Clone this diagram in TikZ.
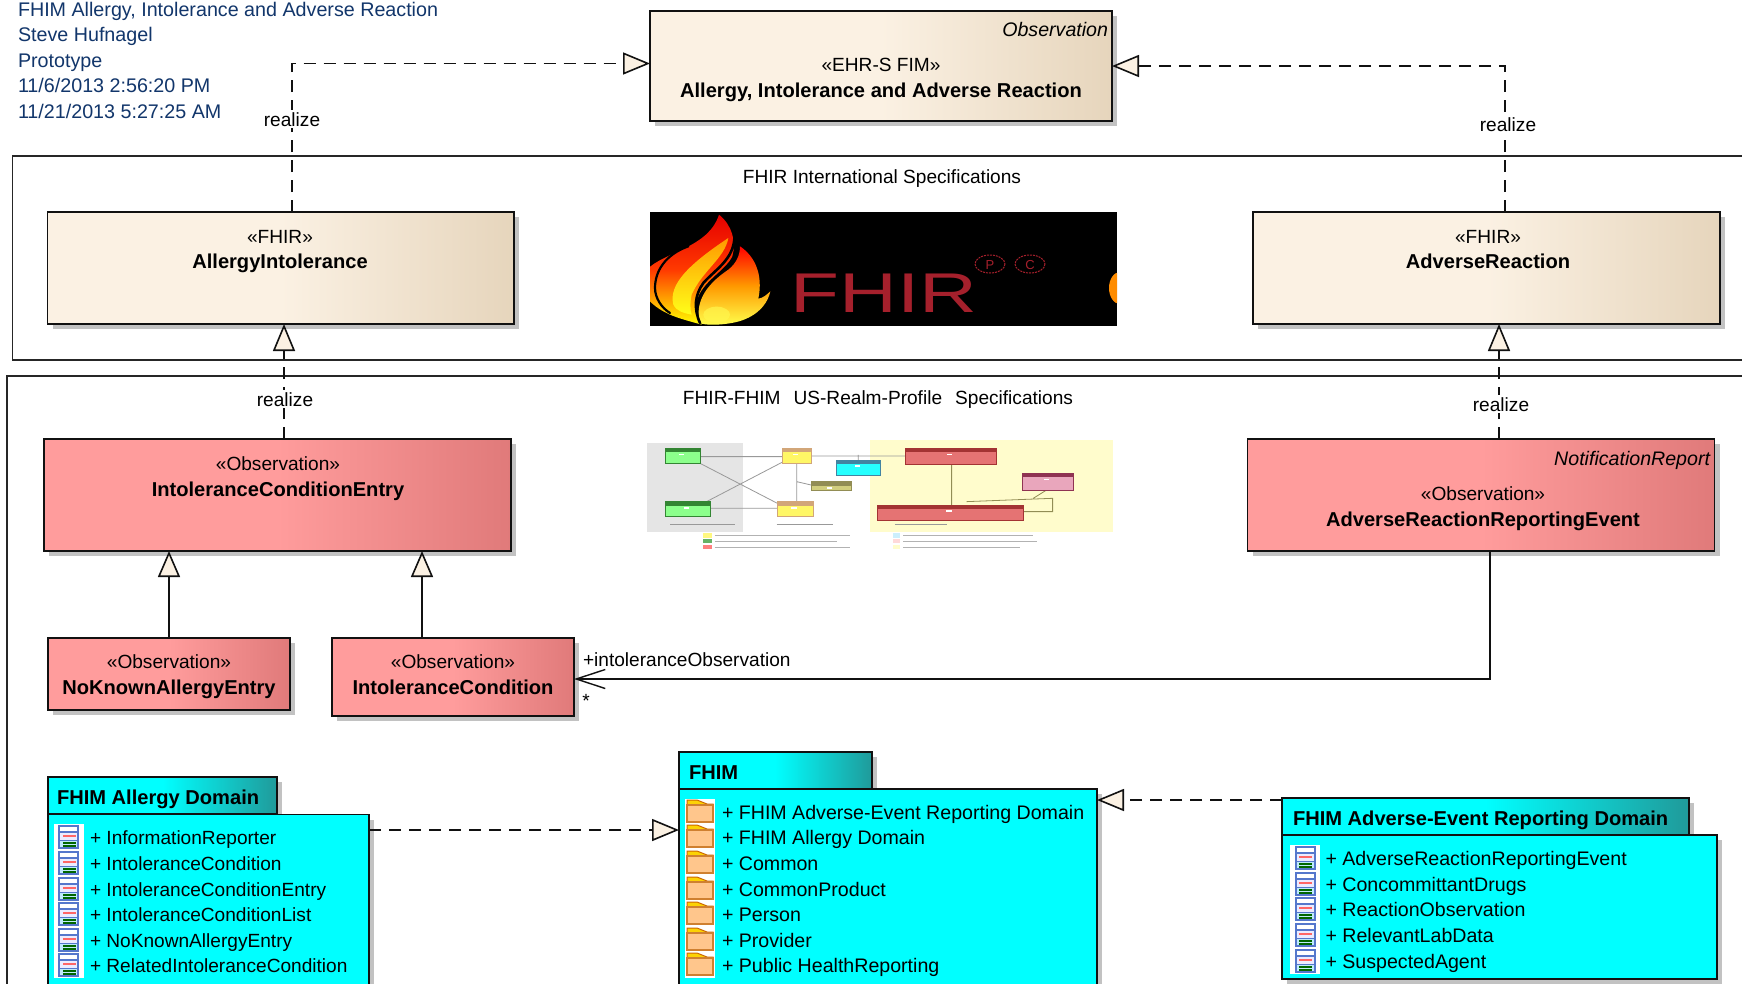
\documentclass[tikz,border=0pt]{standalone}
\usepackage{fontspec}
\setmainfont{Liberation Sans}
\usetikzlibrary{arrows.meta,shadows,calc}
\definecolor{linec}{HTML}{111111}
\definecolor{creamA}{HTML}{FBF1E3}
\definecolor{creamB}{HTML}{E6D5BC}
\definecolor{redA}{HTML}{FF9C9C}
\definecolor{redB}{HTML}{E07A7A}
\definecolor{cyanA}{HTML}{00FFFF}
\definecolor{tealB}{HTML}{209A9A}
\definecolor{shadowc}{HTML}{C2C2C2}
\definecolor{titlec}{HTML}{12366B}
\definecolor{iconb}{HTML}{5577CC}
\definecolor{logored}{HTML}{A5202C}
\tikzset{
  x=1pt,y=-1pt,
  txt/.style={inner sep=0pt,outer sep=0pt,text=black,yshift=-4.4pt,font=\fontsize{19.1}{23}\selectfont},
  bold/.style={txt,font=\fontsize{20.1}{23}\selectfont\bfseries},
  ital/.style={txt,font=\fontsize{19.6}{23}\selectfont\itshape},
  listb/.style={txt,anchor=mid west,font=\fontsize{19.6}{23}\selectfont},
  titletxt/.style={txt,text=titlec,anchor=mid west,font=\fontsize{19.7}{23}\selectfont},
  boxbase/.style={draw=linec,line width=1.6pt,inner sep=0pt,outer sep=0pt,anchor=north west,
     drop shadow={shadow xshift=5pt,shadow yshift=-5pt,fill=shadowc,opacity=1}},
  creambox/.style={boxbase,left color=creamA,right color=creamB,middle color=creamA},
  redbox/.style={boxbase,left color=redA,right color=redB,middle color=redA},
  tabbox/.style={boxbase,left color=cyanA,right color=tealB,middle color=cyanA},
  bodybox/.style={boxbase,fill=cyanA},
  container/.style={draw=black!85,line width=1.5pt,inner sep=0pt,outer sep=0pt,anchor=north west},
  realize/.style={draw=linec,line width=1.4pt,dash pattern=on 12pt off 8pt,
     -{Triangle[width=22pt,length=27pt,fill=creamA,line width=1.6pt]}},
  general/.style={draw=linec,line width=1.6pt,
     -{Triangle[width=22pt,length=26pt,fill=creamA,line width=1.6pt]}},
  assoc/.style={draw=linec,line width=1.4pt,-{Straight Barb[length=29pt,width=19pt,line width=1.4pt]}},
  lbl/.style={txt,fill=white,inner xsep=1pt,inner ysep=2pt},
  clsicon/.pic={
    \fill[white] (-15,-13) rectangle (15,13);
    \fill[iconb] (-10.5,-12) rectangle (10.5,12);
    \fill[white] (-8.5,-10) rectangle (8.5,-6);
    \fill[blue!8] (-8.5,-4.5) rectangle (8.5,2.5);
    \fill[red!60] (-6,-2.5) rectangle (7,0);
    \fill[cyan!25] (-8.5,4) rectangle (8.5,10);
    \fill[black!60!green] (-6,5) rectangle (7,6.5);
    \fill[black!60!green] (-6,8) rectangle (7,9.5);
  },
  foldericon/.pic={
    \fill[white] (-15,-13) rectangle (15,13);
    \fill[draw=orange!80!black,line width=1pt,fill=yellow!70!orange] (-13,-12) -- (-3,-12) -- (7,-8) -- (13,-8) -- (13,-3) -- (-13,-3) -- cycle;
    \filldraw[draw=brown!75!orange,line width=1.6pt,fill=orange!45] (-13,-7) rectangle (13,10);
  },
}
\newcommand{\thumbbox}[6]{%
  \fill[#6] (#1,#2) rectangle (#3,#4);
  \fill[#5] (#1,#2) rectangle (#3,{#2+12});
  \draw[#5,line width=0.5pt] (#1,#2) rectangle (#3,#4);
  \fill[white] ({(#1+#3)/2-12},{#2+16}) rectangle ({(#1+#3)/2+4},{#2+21});
}
\begin{document}
\begin{tikzpicture}
\useasboundingbox (0,0) rectangle (1742,983);
\clip (0,0) rectangle (1742,983);
\fill[white] (0,0) rectangle (1742,983);

% containers
\node (intl) [container,minimum width=1780pt,minimum height=204pt] at (12.5,156) {};
\node (us) [container,minimum width=1780pt,minimum height=700pt] at (7,376) {};
\node (intlT) [txt,anchor=mid] at (882,176) {FHIR International Specifications};
\node (usT) [txt,anchor=mid] at (878,397) {FHIR-FHIM\hspace{13pt}US-Realm-Profile\hspace{13pt}Specifications};

% title block
\node (t1) [titletxt] at (18,9) {FHIM Allergy, Intolerance and Adverse Reaction};
\node (t2) [titletxt] at (18,34) {Steve Hufnagel};
\node (t3) [titletxt] at (18,60) {Prototype};
\node (t4) [titletxt] at (18,85) {11/6/2013 2:56:20 PM};
\node (t5) [titletxt] at (18,111) {11/21/2013 5:27:25 AM};

% class boxes
\node (obs) [creambox,minimum width=462pt,minimum height=110pt] at (650,11) {};
\node (ai) [creambox,minimum width=466.5pt,minimum height=112pt] at (47.5,212) {};
\node (ar) [creambox,minimum width=467pt,minimum height=112pt] at (1253,212) {};
\node (ice) [redbox,minimum width=467pt,minimum height=112pt] at (44,439) {};
\node (are) [redbox,minimum width=467pt,minimum height=112pt] at (1247.5,439) {};
\node (nka) [redbox,minimum width=242pt,minimum height=72pt] at (48,638) {};
\node (ic) [redbox,minimum width=242pt,minimum height=78pt] at (332,638) {};

\node (obsI) [ital,anchor=mid east] at (1108,29) {Observation};
\node (obsS) [txt,anchor=mid] at (881,64) {«EHR-S FIM»};
\node (obsN) [bold,anchor=mid] at (881,90) {Allergy, Intolerance and Adverse Reaction};
\node (aiS) [txt,anchor=mid] at (280,236) {«FHIR»};
\node (aiN) [bold,anchor=mid] at (280,261) {AllergyIntolerance};
\node (arS) [txt,anchor=mid] at (1488,236) {«FHIR»};
\node (arN) [bold,anchor=mid] at (1488,261) {AdverseReaction};
\node (iceS) [txt,anchor=mid] at (278,463) {«Observation»};
\node (iceN) [bold,anchor=mid] at (278,489) {IntoleranceConditionEntry};
\node (areI) [ital,anchor=mid east] at (1710,458) {NotificationReport};
\node (areS) [txt,anchor=mid] at (1483,493) {«Observation»};
\node (areN) [bold,anchor=mid] at (1483,519) {AdverseReactionReportingEvent};
\node (nkaS) [txt,anchor=mid] at (169,661) {«Observation»};
\node (nkaN) [bold,anchor=mid] at (169,687) {NoKnownAllergyEntry};
\node (icS) [txt,anchor=mid] at (453,661) {«Observation»};
\node (icN) [bold,anchor=mid] at (453,687) {IntoleranceCondition};

% FHIR logo image
\begin{scope}
\fill[black] (650,212) rectangle (1117,326);
\begin{scope}
\clip (650,212) rectangle (1117,326);
\begin{scope}[shift={(645,208)},x=0.3333pt,y=-0.3333pt]
  \shade[top color=red!90!black,bottom color=yellow,middle color=red!55!orange]
    (5,185) .. controls (60,130) and (190,120) .. (222,20)
    .. controls (260,50) and (275,100) .. (262,145)
    .. controls (240,190) and (170,220) .. (155,280)
    .. controls (150,310) and (160,335) .. (170,350)
    .. controls (100,330) and (50,320) .. (5,270) -- cycle;
  \shade[top color=orange!80!yellow,bottom color=yellow!90!white]
    (85,290) .. controls (70,230) and (130,170) .. (250,90)
    .. controls (240,150) and (170,190) .. (140,260)
    .. controls (135,285) and (135,305) .. (140,320)
    .. controls (115,315) and (95,310) .. (85,290) -- cycle;
  \shade[top color=red,bottom color=yellow!70!white,middle color=orange!80!yellow]
    (285,115) .. controls (330,145) and (355,200) .. (340,272)
    .. controls (355,270) and (365,260) .. (376,250)
    .. controls (365,300) and (320,335) .. (260,345)
    .. controls (220,352) and (180,352) .. (165,345)
    .. controls (150,290) and (175,235) .. (250,185)
    .. controls (275,165) and (285,140) .. (285,115) -- cycle;
  \draw[black,line width=2.6pt,line cap=round]
    (268,70) .. controls (275,150) and (215,180) .. (175,225)
    .. controls (150,260) and (145,300) .. (165,345);
  \draw[black,line width=2.2pt,line cap=round]
    (130,115) .. controls (60,140) and (30,190) .. (30,240)
    .. controls (30,270) and (50,300) .. (75,315);
  \fill[white!30!yellow,opacity=0.7] (215,320) ellipse (40 and 24);
\end{scope}
\fill[orange!90!yellow] (1120,288) ellipse (11 and 16);
\end{scope}
\node (fhirLogo) [txt,text=logored,anchor=mid,font=\fontsize{56}{60}\selectfont] at (884,305) {\scalebox{1.43}[1]{FHIR}};
\draw[logored,line width=1pt,dash pattern=on 2pt off 1pt] (990,264) ellipse (15 and 9);
\draw[logored,line width=1pt,dash pattern=on 2pt off 1pt] (1030,264) ellipse (15 and 9);
\node (logoP) [txt,text=logored,anchor=mid,font=\fontsize{13}{14}\selectfont] at (990,262) {P};
\node (logoC) [txt,text=logored,anchor=mid,font=\fontsize{13}{14}\selectfont] at (1030,262) {C};
\end{scope}

% thumbnail image
\begin{scope}[shift={(620,190)},x=0.3333pt,y=-0.3333pt]
  \fill[black!10] (80,760) rectangle (370,1025);
  \fill[yellow!20] (750,750) rectangle (1480,1025);
  \draw[black!40,line width=0.8pt] (240,800) -- (487,800) (575,798) -- (855,798) (490,815) -- (250,940)
    (240,820) -- (472,940) (270,955) -- (472,955) (530,820) -- (530,935) (715,795) -- (715,810)
    (530,875) -- (573,885);
  \draw[olive!60!black!70,line width=0.8pt] (995,823) -- (995,945) (1040,935) -- (1298,925) -- (1298,965) -- (1210,965) (1240,925) -- (1280,900);
  \thumbbox{135}{775}{240}{820}{green!40!black!80}{green!45!white}
  \thumbbox{135}{935}{270}{980}{green!40!black!80}{green!45!white}
  \thumbbox{487}{775}{575}{820}{brown!70!white}{yellow!60!white}
  \thumbbox{472}{935}{580}{980}{brown!70!white}{yellow!60!white}
  \thumbbox{650}{810}{782}{855}{cyan!60!black}{cyanA!85!white}
  \thumbbox{573}{875}{693}{900}{olive!60!black!70}{olive!40!white}
  \thumbbox{855}{775}{1130}{823}{red!55!black!80}{red!50!white!90!black}
  \thumbbox{772}{945}{1210}{990}{red!55!black!80}{red!50!white!90!black}
  \thumbbox{1208}{850}{1360}{900}{purple!60!black!80}{purple!35!white}
  \draw[black!40,line width=1.1pt] (150,1003) -- (345,1003) (470,1003) -- (640,1003) (825,1003) -- (980,1003);
  \fill[yellow!50] (250,1030) rectangle (275,1043);
  \fill[green!50!black!60] (250,1048) rectangle (275,1060);
  \fill[red!50] (250,1066) rectangle (275,1078);
  \fill[cyan!20] (820,1030) rectangle (840,1043);
  \fill[red!15] (820,1048) rectangle (840,1060);
  \fill[yellow!20] (820,1066) rectangle (840,1078);
  \draw[black!30,line width=0.8pt] (285,1037) -- (690,1037) (285,1054) -- (650,1054) (285,1072) -- (690,1072)
     (850,1037) -- (1240,1037) (850,1054) -- (1250,1054) (850,1072) -- (1200,1072);
\end{scope}

% package boxes
\node (faTab) [tabbox,minimum width=229pt,minimum height=37pt] at (48,777) {};
\node (faBody) [bodybox,minimum width=321pt,minimum height=210pt] at (48,814.5) {};
\node (fhTab) [tabbox,minimum width=193pt,minimum height=37pt] at (679,752) {};
\node (fhBody) [bodybox,minimum width=418pt,minimum height=240pt] at (679,789) {};
\node (aeTab) [tabbox,minimum width=407pt,minimum height=37pt] at (1282,798) {};
\node (aeBody) [bodybox,minimum width=435pt,minimum height=144pt] at (1282,835) {};
\node (faT) [bold,anchor=mid west] at (57,797) {FHIM Allergy Domain};
\node (fhT) [bold,anchor=mid west] at (689,772) {FHIM};
\node (aeT) [bold,anchor=mid west] at (1293,818) {FHIM Adverse-Event Reporting Domain};

\foreach \y/\t in {837/InformationReporter,863/IntoleranceCondition,889/IntoleranceConditionEntry,914/IntoleranceConditionList,940/NoKnownAllergyEntry,965/RelatedIntoleranceCondition}{
  \pic at (68.5,\y) {clsicon};
  \node (fa\y) [txt,anchor=mid west] at (90,\y) {+ \t};
}
\foreach \y/\t in {812/FHIM Adverse-Event Reporting Domain,837/FHIM Allergy Domain,863/Common,889/CommonProduct,914/Person,940/Provider,965/Public HealthReporting}{
  \pic at (700,\y) {foldericon};
  \node (fh\y) [listb] at (722,\y) {+ \t};
}
\foreach \y/\t in {858/AdverseReactionReportingEvent,884/ConcommittantDrugs,909/ReactionObservation,935/RelevantLabData,961/SuspectedAgent}{
  \pic at (1305,\y) {clsicon};
  \node (ae\y) [listb] at (1325.5,\y) {+ \t};
}

% connectors
\coordinate (r1) at (292,63.5);
\coordinate (r2) at (1505,66);
\coordinate (r3) at (284,400);
\coordinate (r4) at (1499,400);
\coordinate (g1) at (169,600);
\coordinate (g2) at (422,600);
\coordinate (as) at (1490,679);
\coordinate (d1) at (500,830);
\coordinate (d2) at (1200,800);
\draw[realize] (ai.north -| r1) |- (obs.west |- r1);
\draw[realize] (ar.north -| r2) |- (obs.east |- r2);
\draw[realize] (ice.north -| r3) -- (ai.south -| r3);
\draw[realize] (are.north -| r4) -- (ar.south -| r4);
\draw[general] (nka.north -| g1) -- (ice.south -| g1);
\draw[general] (ic.north -| g2) -- (ice.south -| g2);
\draw[assoc] (are.south -| as) |- (ic.east |- as);
\draw[realize] (faBody.east |- d1) -- (fhBody.west |- d1);
\draw[realize] (aeTab.west |- d2) -- (fhBody.east |- d2);

\node (l1) [lbl,anchor=mid] at (292,119) {realize};
\node (l2) [lbl,anchor=mid] at (1508,124) {realize};
\node (l3) [lbl,anchor=mid] at (285,399) {realize};
\node (l4) [lbl,anchor=mid] at (1501,404) {realize};
\node (l5) [txt,anchor=mid west] at (583,659.5) {+intoleranceObservation};
\node (l6) [txt,anchor=mid] at (586,700) {*};
\end{tikzpicture}
\end{document}
